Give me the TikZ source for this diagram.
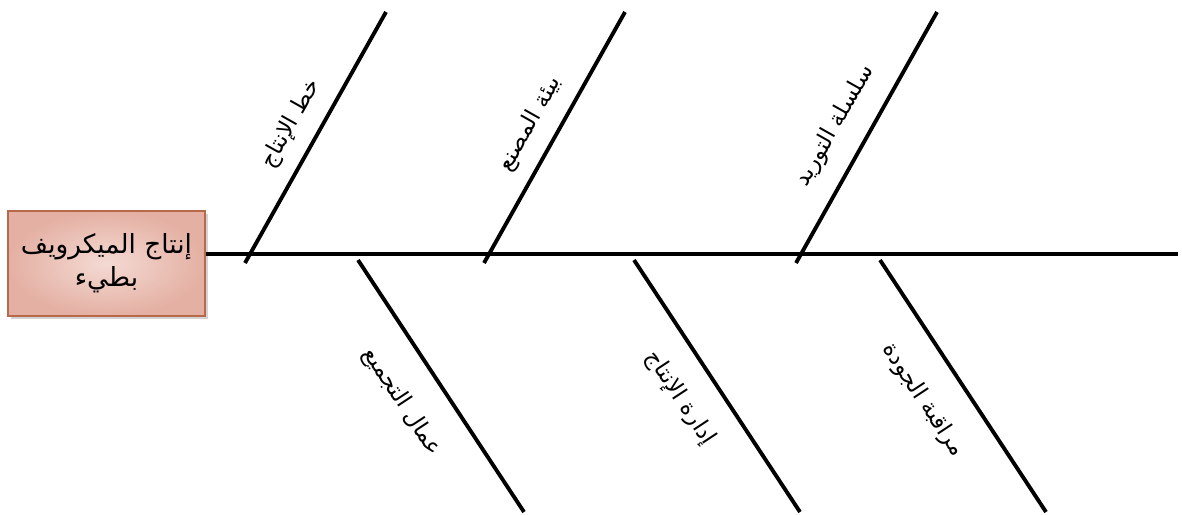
\documentclass[tikz,border=0pt]{standalone}
\usepackage{fontspec}
\usepackage{xcolor}
\usepackage{tikz}
\usetikzlibrary{shadows}
\TeXXeTstate=1
\newfontfamily\arabicfont[Script=Arabic]{DejaVu Sans}
\definecolor{boxedge}{HTML}{B8694A}
\definecolor{boxin}{HTML}{F4DAD3}
\definecolor{boxout}{HTML}{E4B0A3}
\tikzset{
  bone/.style={line width=2.2pt,black},
  cause/.style={font=\arabicfont\fontsize{13}{15}\selectfont,inner sep=1pt},
  effect/.style={draw=boxedge,line width=0.6pt,inner color=boxin,outer color=boxout,
    minimum width=3.94cm,minimum height=2.1cm,align=center,
    font=\arabicfont\fontsize{15}{19}\selectfont,
    drop shadow={opacity=0.35,shadow xshift=1.5pt,shadow yshift=-1.5pt}}
}

\begin{document}
\begin{tikzpicture}[x=0.02cm,y=-0.02cm]
\useasboundingbox (0,0) rectangle (1182,514);
% head of the fish
\node[effect] (head) at (106.5,263.5) {\beginR إنتاج الميكرويف\endR\\\beginR بطيء\endR};
\coordinate (tail) at (1178,254);
\draw[bone] (head.east |- tail) -- (tail);
% upper bones
\coordinate (u1a) at (245,263); \coordinate (u1b) at (386,12);
\coordinate (u2a) at (484,263); \coordinate (u2b) at (625,12);
\coordinate (u3a) at (796,263); \coordinate (u3b) at (937,12);
\draw[bone] (u1a) -- (u1b);
\draw[bone] (u2a) -- (u2b);
\draw[bone] (u3a) -- (u3b);
% lower bones
\coordinate (l1a) at (358,260); \coordinate (l1b) at (524,512);
\coordinate (l2a) at (634,260); \coordinate (l2b) at (800,512);
\coordinate (l3a) at (880,260); \coordinate (l3b) at (1046,512);
\draw[bone] (l1a) -- (l1b);
\draw[bone] (l2a) -- (l2b);
\draw[bone] (l3a) -- (l3b);
% causes
\node[cause,rotate=60.6] (line) at (291,124) {\beginR خط الإنتاج\endR};
\node[cause,rotate=60.6] (plant) at (530,124) {\beginR بيئة المصنع\endR};
\node[cause,rotate=60.6] (supply) at (835,126) {\beginR سلسلة التوريد\endR};
\node[cause,rotate=-56.6] (workers) at (402,402) {\beginR عمال التجميع\endR};
\node[cause,rotate=-56.6] (manage) at (680,398) {\beginR إدارة الإنتاج\endR};
\node[cause,rotate=-56.6] (quality) at (923,400) {\beginR مراقبة الجودة\endR};
\end{tikzpicture}
\end{document}
